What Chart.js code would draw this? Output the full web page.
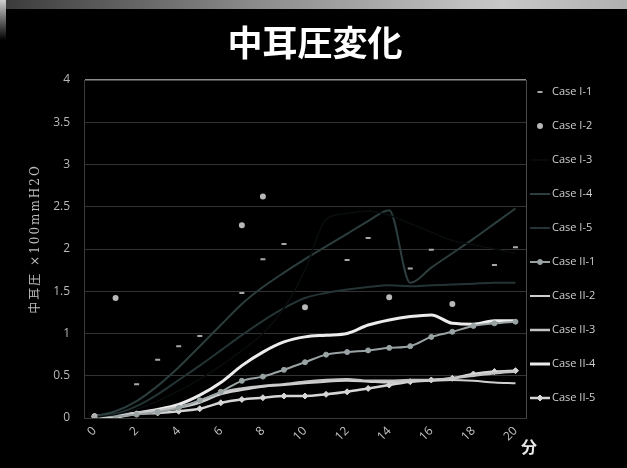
<!DOCTYPE html>
<html>
<head>
<meta charset="utf-8">
<script src="https://cdn.jsdelivr.net/npm/chart.js@4/dist/chart.umd.min.js"></script>
<style>
  html, body { margin: 0; padding: 0; background: #000; }
  #wrap { position: relative; width: 627px; height: 468px; overflow: hidden; background: #000; }
  #topEdge { position: absolute; left: 0; top: 0; width: 627px; height: 9px;
             background: linear-gradient(to right, #3a3a3a, #8a8a8a 40%, #c8c8c8 80%, #b0b0b0); }
  #leftEdge { position: absolute; left: 0; top: 0; width: 6px; height: 40px;
              background: linear-gradient(to bottom, #d0d0d0, #000); }
  canvas { position: absolute; left: 0; top: 0; }
</style>
</head>
<body>
<div id="wrap">
  <canvas id="earChart" width="627" height="468"></canvas>
  <div id="topEdge"></div>
  <div id="leftEdge"></div>
</div>
<script>
// Minutes on the x axis
const minutes = ['0','1','2','3','4','5','6','7','8','9','10','11','12','13','14','15','16','17','18','19','20'];
const yTicks = [0, 0.5, 1, 1.5, 2, 2.5, 3, 3.5, 4];

// Case I (dim series)
const caseI1 = [0.02, null, 0.40, 0.69, 0.85, 0.97, null, 1.48, 1.88, 2.06, null, null, 1.87, 2.13, null, 1.77, 1.99, null, null, 1.81, 2.02];
const caseI2 = [0.02, 1.42, null, null, null, null, null, 2.28, 2.62, null, 1.31, null, null, null, 1.43, null, null, 1.35, null, null, null];
const caseI3 = [0.01, 0.04, 0.10, 0.20, 0.32, 0.46, 0.62, 0.80, 1.00, 1.30, 1.75, 2.35, 2.42, 2.45, 2.40, 2.30, 2.20, 2.10, 2.05, 2.00, 1.95];
const caseI4 = [0.02, 0.08, 0.20, 0.38, 0.60, 0.85, 1.10, 1.35, 1.55, 1.72, 1.88, 2.03, 2.18, 2.33, 2.46, 1.60, 1.78, 1.95, 2.12, 2.30, 2.48];
const caseI5 = [0.02, 0.05, 0.14, 0.28, 0.45, 0.62, 0.80, 0.98, 1.15, 1.30, 1.42, 1.48, 1.52, 1.55, 1.57, 1.56, 1.57, 1.58, 1.59, 1.60, 1.60];

// Case II (bright series)
const caseII1 = [0.02, 0.02, 0.04, 0.07, 0.12, 0.21, 0.31, 0.44, 0.49, 0.57, 0.66, 0.75, 0.78, 0.80, 0.83, 0.85, 0.96, 1.02, 1.09, 1.12, 1.14];
const caseII2 = [0.02, 0.03, 0.05, 0.08, 0.12, 0.18, 0.28, 0.33, 0.37, 0.39, 0.41, 0.43, 0.44, 0.43, 0.42, 0.43, 0.44, 0.45, 0.44, 0.42, 0.41];
const caseII3 = [0.02, 0.03, 0.06, 0.09, 0.13, 0.20, 0.30, 0.35, 0.38, 0.40, 0.43, 0.45, 0.46, 0.44, 0.44, 0.45, 0.45, 0.47, 0.50, 0.53, 0.55];
const caseII4 = [0.02, 0.03, 0.06, 0.10, 0.16, 0.27, 0.42, 0.62, 0.78, 0.90, 0.96, 0.98, 1.00, 1.10, 1.16, 1.20, 1.22, 1.12, 1.11, 1.15, 1.15];
const caseII5 = [0.02, 0.01, 0.05, 0.06, 0.08, 0.11, 0.18, 0.22, 0.24, 0.26, 0.26, 0.28, 0.31, 0.35, 0.39, 0.43, 0.45, 0.47, 0.52, 0.55, 0.56];

const textFont = '"Open Sans", "Liberation Sans", sans-serif';

function markerSeries(label, data, color, style, radius) {
    return {
        label: label, data: data, showLine: false,
        borderColor: color, backgroundColor: color,
        pointStyle: style, pointRadius: radius, pointBorderWidth: 2, pointHoverRadius: radius
    };
}

function lineSeries(label, data, color, width, style, radius) {
    return {
        label: label, data: data, borderColor: color, backgroundColor: color,
        borderWidth: width, tension: 0.3, cubicInterpolationMode: 'monotone',
        pointStyle: style || 'circle', pointRadius: radius || 0, pointHoverRadius: radius || 0,
        pointBorderWidth: 1
    };
}

// Title, axis title, legend and unit drawn around the plot like the slide
const slideDecor = {
    id: 'slideDecor',
    afterDraw(chart) {
        const ctx = chart.ctx;
        const area = chart.chartArea;
        ctx.save();

        // title
        ctx.fillStyle = '#ffffff';
        ctx.font = 'bold 35px "Noto Sans CJK JP", sans-serif';
        ctx.textAlign = 'center';
        ctx.textBaseline = 'middle';
        ctx.fillText('中耳圧変化', 315, 43);

        // y axis title
        ctx.save();
        ctx.translate(36, (area.top + area.bottom) / 2 - 10);
        ctx.rotate(-Math.PI / 2);
        ctx.fillStyle = '#bcbcbc';
        ctx.font = '12px "DejaVu Serif", "Noto Sans CJK JP", serif';
        ctx.letterSpacing = '2px';
        ctx.fillText('中耳圧 ×100mmH2O', 0, 0);
        ctx.restore();

        // legend
        const x0 = area.right + 4;
        ctx.textAlign = 'left';
        ctx.font = '11px ' + textFont;
        chart.data.datasets.forEach((ds, i) => {
            const y = 92 + i * 34;
            if (ds.showLine !== false) {
                ctx.strokeStyle = ds.borderColor;
                ctx.lineWidth = ds.borderWidth;
                ctx.beginPath();
                ctx.moveTo(x0, y);
                ctx.lineTo(x0 + 20, y);
                ctx.stroke();
            }
            if (ds.pointRadius > 0) {
                ctx.strokeStyle = ds.borderColor;
                ctx.fillStyle = ds.backgroundColor;
                ctx.lineWidth = ds.pointBorderWidth;
                Chart.helpers.drawPoint(ctx, { pointStyle: ds.pointStyle, radius: ds.pointRadius, borderWidth: ds.pointBorderWidth }, x0 + 10, y);
            }
            ctx.fillStyle = '#cfcfcf';
            ctx.fillText(ds.label, x0 + 22, y);
        });

        // minute unit
        ctx.fillStyle = '#e8e8e8';
        ctx.font = 'bold 16px "Noto Sans CJK JP", sans-serif';
        ctx.fillText('分', area.right - 5, area.bottom + 29);
        ctx.restore();
    },
    afterDatasetsDraw(chart) {
        const ctx = chart.ctx;
        const area = chart.chartArea;
        ctx.save();
        ctx.strokeStyle = '#4a4a4a';
        ctx.lineWidth = 1;
        ctx.beginPath();
        ctx.moveTo(area.right + 0.5, area.top);
        ctx.lineTo(area.right + 0.5, area.bottom);
        ctx.stroke();
        ctx.restore();
    }
};

document.addEventListener('DOMContentLoaded', function() {
    const ctx = document.getElementById('earChart');
    new Chart(ctx, {
        type: 'line',
        data: {
            labels: minutes,
            datasets: [
                markerSeries('Case I-1', caseI1, '#a8a8a8', 'line', 2.5),
                markerSeries('Case I-2', caseI2, '#b8b8b8', 'circle', 2),
                lineSeries('Case I-3', caseI3, '#090d0d', 1.5),
                lineSeries('Case I-4', caseI4, '#2c3d3d', 2),
                lineSeries('Case I-5', caseI5, '#243434', 2),
                lineSeries('Case II-1', caseII1, '#9aa3a3', 2, 'circle', 2.5),
                lineSeries('Case II-2', caseII2, '#cfcfcf', 2),
                lineSeries('Case II-3', caseII3, '#c4c4c4', 2.5),
                lineSeries('Case II-4', caseII4, '#ececec', 3),
                lineSeries('Case II-5', caseII5, '#d6d6d6', 2.5, 'rectRot', 3)
            ]
        },
        options: {
            responsive: false,
            animation: false,
            layout: { padding: { left: 0, right: 101, top: 80, bottom: 0 } },
            plugins: {
                legend: { display: false },
                tooltip: { enabled: false },
                title: { display: false }
            },
            scales: {
                x: {
                    offset: true,
                    grid: { display: false, drawTicks: false },
                    border: { display: true, color: '#3a3a3a' },
                    ticks: {
                        autoSkip: false,
                        minRotation: 45,
                        maxRotation: 45,
                        padding: 6,
                        color: '#c4c4c4',
                        font: { family: textFont, size: 12 },
                        callback: function(value, index) {
                            return index % 2 === 0 ? minutes[index] : '';
                        }
                    },
                    afterFit: function(scale) { scale.height = 50; }
                },
                y: {
                    min: 0,
                    max: 4,
                    afterBuildTicks: function(scale) {
                        scale.ticks = yTicks.map(v => ({ value: v }));
                    },
                    grid: {
                        drawTicks: false,
                        color: function(c) { return c.tick && c.tick.value === 4 ? '#8c8c8c' : '#333333'; },
                        lineWidth: function(c) { return c.tick && c.tick.value === 4 ? 1.5 : 1; }
                    },
                    border: { display: true, color: '#3a3a3a' },
                    ticks: {
                        padding: 14,
                        color: '#b8b8b8',
                        font: { family: textFont, size: 12 },
                        callback: function(value) { return String(value); }
                    },
                    afterFit: function(scale) { scale.width = 84; }
                }
            }
        },
        plugins: [slideDecor]
    });
});
</script>
</body>
</html>
